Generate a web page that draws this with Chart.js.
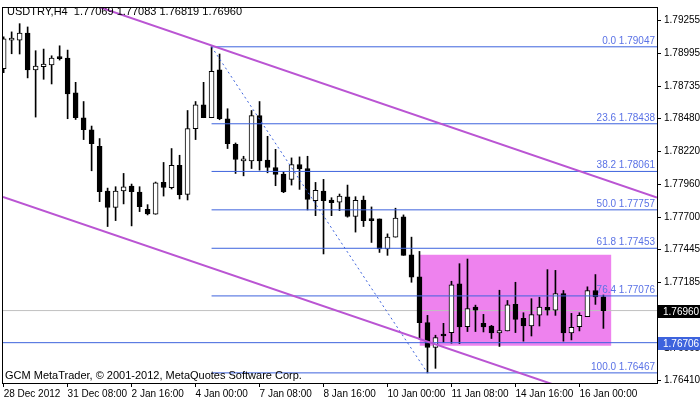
<!DOCTYPE html>
<html>
<head>
<meta charset="utf-8">
<script src="https://cdn.jsdelivr.net/npm/chart.js@4.4.0/dist/chart.umd.min.js"></script>
<style>
  html,body{margin:0;padding:0;background:#fff;}
  #wrap{width:700px;height:402px;}
</style>
</head>
<body>
<div id="wrap"><canvas id="c" width="700" height="402"></canvas></div>
<script>
// USDTRY H4 candles, index 0 = 28 Dec 2012 00:00
const opens = [1.78874,1.79100,1.79100,1.79155,1.78864,1.78890,1.78903,1.78958,1.78958,1.78683,
1.78486,1.78391,1.78260,1.77906,1.77777,1.77906,1.77945,1.77898,1.77762,1.77722,
1.77974,1.77932,1.78110,1.77880,1.78399,1.78588,1.78486,1.78864,1.78478,1.78276,
1.78144,1.78144,1.78502,1.78150,1.78092,1.78040,1.77998,1.78116,1.78084,1.77829,
1.77906,1.77835,1.77817,1.77859,1.77704,1.77835,1.77685,1.77685,1.77447,1.77541,
1.77701,1.77402,1.77227,1.76865,1.76668,1.76770,1.76786,1.77172,1.76833,1.76987,
1.76859,1.76838,1.76783,1.76799,1.77009,1.76899,1.76838,1.76924,1.76985,1.76964,
1.77095,1.76783,1.76833,1.76912,1.77119,1.77069];
const highs = [1.79126,1.79165,1.79230,1.79204,1.79016,1.79029,1.78976,1.79055,1.79021,1.78766,
1.78614,1.78420,1.78321,1.77929,1.77940,1.78045,1.77961,1.77940,1.77798,1.77977,
1.78132,1.78242,1.78189,1.78543,1.78614,1.78766,1.79047,1.78990,1.78557,1.78286,
1.78181,1.78543,1.78614,1.78339,1.78236,1.78058,1.78168,1.78176,1.78181,1.77974,
1.77998,1.77853,1.77882,1.77953,1.77861,1.77866,1.77780,1.77685,1.77567,1.77770,
1.77717,1.77541,1.77428,1.76922,1.76765,1.76859,1.77192,1.77331,1.77368,1.77003,
1.76930,1.76843,1.77121,1.77040,1.77184,1.76943,1.77054,1.77066,1.77284,1.77278,
1.77119,1.76938,1.76943,1.77148,1.77245,1.77083];
const lows = [1.78842,1.78992,1.78990,1.78801,1.78491,1.78790,1.78753,1.78942,1.78478,1.78472,
1.78313,1.78066,1.77822,1.77625,1.77672,1.77804,1.77630,1.77743,1.77717,1.77722,
1.77866,1.77922,1.77843,1.77835,1.78313,1.78486,1.78486,1.78470,1.78242,1.78045,
1.78026,1.78084,1.78071,1.78050,1.77948,1.77893,1.77953,1.77919,1.77756,1.77711,
1.77408,1.77711,1.77751,1.77699,1.77581,1.77625,1.77499,1.77420,1.77397,1.77541,
1.77397,1.77184,1.76733,1.76467,1.76503,1.76707,1.76702,1.76699,1.76794,1.76794,
1.76791,1.76739,1.76676,1.76799,1.76786,1.76718,1.76759,1.76838,1.76924,1.76922,
1.76718,1.76728,1.76799,1.76912,1.77009,1.76819];
const closes = [1.79110,1.79102,1.79155,1.78864,1.78895,1.78911,1.78958,1.78953,1.78675,1.78486,
1.78391,1.78281,1.77900,1.77777,1.77906,1.77940,1.77900,1.77782,1.77725,1.77971,
1.77935,1.78110,1.77877,1.78399,1.78588,1.78486,1.78853,1.78478,1.78281,1.78155,
1.78147,1.78502,1.78144,1.78092,1.78037,1.77898,1.78116,1.78081,1.77840,1.77911,
1.77829,1.77814,1.77866,1.77704,1.77833,1.77672,1.77672,1.77447,1.77541,1.77691,
1.77397,1.77224,1.76865,1.76668,1.76747,1.76759,1.77164,1.76830,1.76975,1.76964,
1.76830,1.76783,1.76802,1.77006,1.76891,1.76838,1.76928,1.76987,1.76964,1.77095,
1.76783,1.76828,1.76922,1.77119,1.77069,1.76960];

const timeLabels = ['28 Dec 2012','31 Dec 08:00','2 Jan 16:00','4 Jan 00:00','7 Jan 08:00',
  '8 Jan 16:00','10 Jan 00:00','11 Jan 08:00','14 Jan 16:00','16 Jan 00:00'];
const timeTickIdx = [0,8,16,24,32,40,48,56,64,72];
const priceTicks = [1.79255,1.78995,1.78735,1.78480,1.78220,1.77960,1.77700,1.77445,1.77185,1.76925,1.76665,1.76410];

// fibonacci retracement (from bar 26 high to bar 53 low)
const fibPct = ['0.0','23.6','38.2','50.0','61.8','76.4','100.0'];
const fibVals = [1.79047,1.78438,1.78061,1.77757,1.77453,1.77076,1.76467];
const fibStart = 26, fibEnd = 53;

// channel lines (x in bar index)
const upperChan = [{x:-0.08,y:1.79621},{x:81.7,y:1.77854}];
const lowerChan = [{x:-0.08,y:1.77859},{x:81.7,y:1.76096}];

// range rectangle
const boxX = [52,76], boxTop = 1.77402, boxBottom = 1.76681;

const bid = 1.76960, hline = 1.76706;
const XMIN = -0.08, XMAX = 81.7, YMIN = 1.76387, YMAX = 1.79354;
const FONT = 'Liberation Sans';

const idx = opens.map((_,i)=>i);
const datasets = [];

datasets.push({
  type:'bar', label:'wick', order:3, grouped:false,
  data: idx.map(i=>({x:i, y:[lows[i], highs[i]]})),
  backgroundColor:'#000', borderWidth:0, barThickness:1
});
datasets.push({
  type:'bar', label:'body', order:2, grouped:false,
  data: idx.map(i=>({x:i, y:[opens[i], closes[i]]})),
  backgroundColor: idx.map(i=>closes[i] > opens[i] ? '#fff' : '#000'),
  borderColor:'#000', borderWidth:1, borderSkipped:false, barThickness:5, minBarLength:2
});
datasets.push({
  type:'line', label:'box', order:10,
  data:[{x:boxX[0],y:boxTop},{x:boxX[1],y:boxTop}],
  borderWidth:0, pointRadius:0, backgroundColor:'#EE82EE', fill:{value:boxBottom}
});
datasets.push({
  type:'line', label:'bid', order:9,
  data:[{x:XMIN,y:bid},{x:XMAX,y:bid}],
  borderColor:'#C0C0C0', borderWidth:1, pointRadius:0
});
datasets.push({
  type:'line', label:'hline', order:1,
  data:[{x:XMIN,y:hline},{x:XMAX,y:hline}],
  borderColor:'#3D63DD', borderWidth:1, pointRadius:0
});
fibVals.forEach(v=>{
  datasets.push({
    type:'line', label:'fib', order:1,
    data:[{x:fibStart,y:v},{x:XMAX,y:v}],
    borderColor:'#3D63DD', borderWidth:1, pointRadius:0
  });
});
datasets.push({
  type:'line', label:'fibdiag', order:1,
  data:[{x:fibStart,y:fibVals[0]},{x:fibEnd,y:fibVals[6]}],
  borderColor:'#3D63DD', borderWidth:1, borderDash:[2,3], pointRadius:0
});
[upperChan, lowerChan].forEach(d=>{
  datasets.push({
    type:'line', label:'chan', order:0, data:d,
    borderColor:'#BA55D3', borderWidth:2, pointRadius:0
  });
});

const textPlugin = {
  id:'texts',
  afterDatasetsDraw(chart){
    const {ctx, chartArea, scales:{x,y}} = chart;
    ctx.save();
    ctx.font = '10px "'+FONT+'"';
    ctx.textBaseline = 'bottom';
    ctx.textAlign = 'right';
    ctx.fillStyle = '#5A72E6';
    fibVals.forEach((v,i)=>{
      ctx.fillText(fibPct[i]+' '+v.toFixed(5), chartArea.right-2, y.getPixelForValue(v)-1);
    });
    ctx.textAlign = 'left';
    ctx.fillStyle = '#000';
    ctx.font = '11px "'+FONT+'"';
    ctx.fillText('USDTRY,H4  '+opens[75].toFixed(5)+' '+highs[75].toFixed(5)+' '+lows[75].toFixed(5)+' '+closes[75].toFixed(5), 7, 17);
    ctx.fillText('GCM MetaTrader, \u00a9 2001-2012, MetaQuotes Software Corp.', 5, chartArea.bottom-2);
    // axis price boxes
    ctx.font = '10px "'+FONT+'"';
    ctx.textBaseline = 'middle';
    [[bid,'#000'],[hline,'#3D63DD']].forEach(([v,col])=>{
      const py = Math.round(y.getPixelForValue(v));
      ctx.fillStyle = col;
      ctx.fillRect(chartArea.right+1, py-6, 700-chartArea.right-1, 13);
      ctx.fillStyle = '#fff';
      ctx.fillText(v.toFixed(5), chartArea.right+6, py+1);
    });
    ctx.restore();
  }
};

const frame = {
  id:'frame',
  beforeDraw(chart){
    const {ctx} = chart;
    ctx.save();
    ctx.fillStyle = '#fff';
    ctx.fillRect(0,0,chart.width,chart.height);
    ctx.restore();
  },
  afterDraw(chart){
    const {ctx, chartArea:a} = chart;
    ctx.save();
    ctx.strokeStyle = '#000';
    ctx.lineWidth = 1;
    ctx.strokeRect(Math.round(a.left)-0.5, Math.round(a.top)-0.5, Math.round(a.right-a.left)+1, Math.round(a.bottom-a.top)+1);
    ctx.restore();
  }
};

new Chart(document.getElementById('c'), {
  data:{ datasets },
  options:{
    responsive:false, animation:false,
    layout:{ padding:{ top:8, left:3, right:0, bottom:0 } },
    plugins:{ legend:{display:false}, tooltip:{enabled:false} },
    scales:{
      x:{
        type:'linear', min:XMIN, max:XMAX, position:'bottom', offset:false,
        afterFit(s){ s.height = 19; s.paddingLeft = 0; s.paddingRight = 0; },
        afterBuildTicks(s){ s.ticks = timeTickIdx.map(v=>({value:v})); },
        ticks:{ autoSkip:false, maxRotation:0, align:'start', padding:1, color:'#000',
          font:{family:FONT, size:10},
          callback:(v)=>timeLabels[timeTickIdx.indexOf(v)] },
        grid:{ drawOnChartArea:false, drawTicks:true, tickLength:4, color:'#000', offset:false },
        border:{ display:false }
      },
      y:{
        type:'linear', min:YMIN, max:YMAX, position:'right',
        afterFit(s){ s.width = 43; s.paddingTop = 0; s.paddingBottom = 0; },
        afterBuildTicks(s){ s.ticks = priceTicks.map(v=>({value:v})); },
        ticks:{ color:'#000', padding:3, font:{family:FONT, size:10},
          callback:(v)=>v.toFixed(5) },
        grid:{ drawOnChartArea:false, drawTicks:true, tickLength:4, color:'#000' },
        border:{ display:false }
      }
    }
  },
  plugins:[frame, textPlugin]
});
</script>
</body>
</html>
